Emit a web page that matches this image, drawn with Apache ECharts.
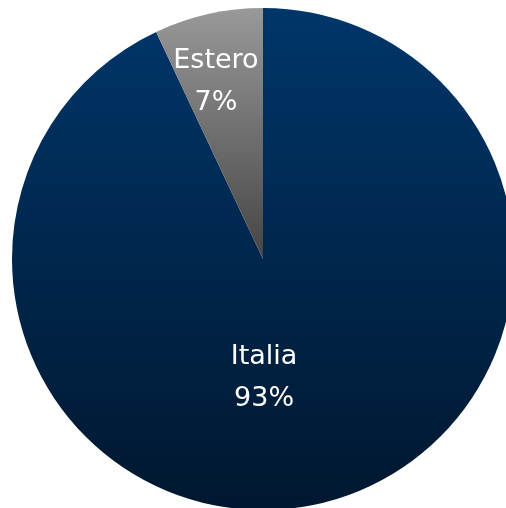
<!DOCTYPE html>
<html>
<head>
<meta charset="utf-8">
<script src="https://cdn.jsdelivr.net/npm/echarts@6/dist/echarts.min.js"></script>
<style>html,body{margin:0;padding:0;background:#fff;}#c{width:506px;height:508px;}</style>
</head>
<body>
<div id="c"></div>
<script>
var categories = ['Italia', 'Estero'];
var values = [93, 7];
var topColors = ['#00366a', '#999999'];
var bottomColors = ['#00172f', '#454545'];

var chart = echarts.init(document.getElementById('c'), null, {renderer: 'canvas'});
var data = categories.map(function (name, i) {
  return {
    name: name,
    value: values[i],
    itemStyle: {
      color: {
        type: 'linear', x: 0, y: 0, x2: 0, y2: 1,
        colorStops: [{offset: 0, color: topColors[i]}, {offset: 1, color: bottomColors[i]}]
      }
    }
  };
});
chart.setOption({
  animation: false,
  series: [{
    type: 'pie',
    center: [263, 259],
    radius: 251,
    startAngle: 90,
    clockwise: true,
    avoidLabelOverlap: false,
    itemStyle: {borderWidth: 0},
    emphasis: {disabled: true},
    label: {
      show: true,
      position: 'inside',
      formatter: function (p) { return p.name + '\n' + p.value + '%'; },
      color: '#ffffff',
      fontFamily: 'DejaVu Sans',
      fontSize: 27,
      lineHeight: 42,
      align: 'center'
    },
    labelLine: {show: false},
    labelLayout: function (p) {
      return p.dataIndex === 0 ? {dx: -27, dy: -6} : {dx: -19, dy: -52};
    },
    data: data
  }]
});
</script>
</body>
</html>
